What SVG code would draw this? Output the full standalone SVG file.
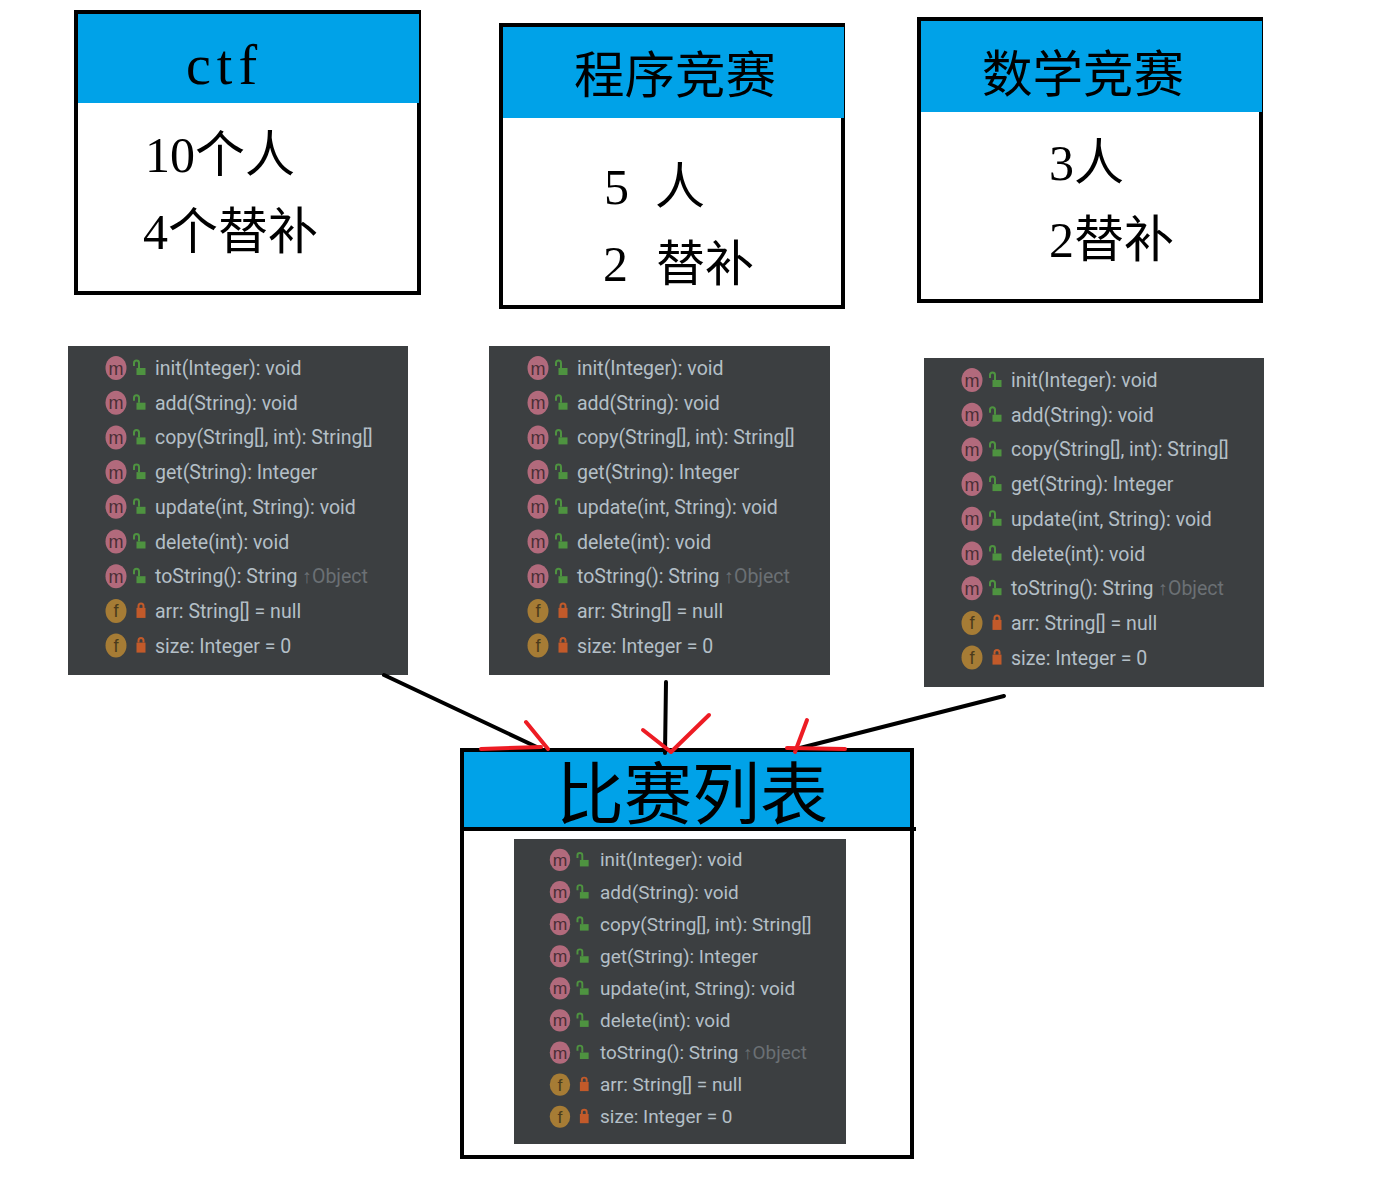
<svg xmlns="http://www.w3.org/2000/svg" xmlns:xlink="http://www.w3.org/1999/xlink" width="1378" height="1194" viewBox="0 0 1378 1194">
<style>
.box{fill:#fff;stroke:#000;stroke-width:4}
.hd{fill:#00a2e8}
.big{font-family:"Liberation Serif","Noto Sans CJK SC",serif;fill:#000}
.panel{fill:#3c3f41}
.r{font-family:Roboto,"Noto Sans",sans-serif;font-size:19.500px;fill:#b4bfc7}
.g{fill:#6b7074}
.ic{font-family:"Liberation Sans",sans-serif;font-size:18px;text-anchor:middle}
.k{stroke:#000;stroke-width:4;fill:none;stroke-linecap:round}
.e{stroke:#ed1c24;stroke-width:4;fill:none;stroke-linecap:round}
</style>
<defs>
<g id="mi"><ellipse cx="0" cy="0" rx="10.500" ry="12" fill="#b26a7c"/><rect x="20.500" y="0" width="9" height="7" fill="#4e9340"/><path d="M18 -2v-3a2.500 2.500 0 0 1 5 0v5" fill="none" stroke="#4e9340" stroke-width="2"/></g>
<g id="fi"><ellipse cx="0" cy="0" rx="10.500" ry="12" fill="#a67c35"/><rect x="20.500" y="-3" width="9" height="10" fill="#c25a2a"/><path d="M22.500 -3v-2a2.500 2.500 0 0 1 5 0v2" fill="none" stroke="#c25a2a" stroke-width="2"/></g>
</defs>
<rect width="1378" height="1194" fill="#fff"/>

<g id="node-ctf">
<rect class="box" x="76" y="12" width="343" height="281"/>
<rect class="hd" x="78" y="14" width="341" height="89"/>
<text class="big" x="186" y="84" font-size="56" letter-spacing="6">ctf</text>
<text class="big" x="145" y="172" font-size="50">10个人</text>
<text class="big" x="143" y="249" font-size="50">4个替补</text>
</g>
<g id="node-program">
<rect class="box" x="501" y="25" width="342" height="282"/>
<rect class="hd" x="503" y="27" width="341" height="91"/>
<text class="big" x="574" y="93" font-size="50.500">程序竞赛</text>
<text class="big" x="604" y="204" font-size="50">5</text><text class="big" x="655" y="204" font-size="50">人</text>
<text class="big" x="603" y="281" font-size="50">2</text><text class="big" x="656" y="281" font-size="49">替补</text>
</g>
<g id="node-math">
<rect class="box" x="919" y="19" width="342" height="282"/>
<rect class="hd" x="921" y="21" width="341" height="91"/>
<text class="big" x="982" y="92" font-size="50.500">数学竞赛</text>
<text class="big" x="1049" y="180" font-size="50">3人</text>
<text class="big" x="1049" y="257" font-size="50">2替补</text>
</g>

<g id="panel-ctf">
<rect class="panel" x="68" y="346" width="340" height="329"/>
<g transform="translate(68,346)">
<use xlink:href="#mi" x="48" y="22"/><text class="ic" x="48" y="28.500" fill="#4a2e36">m</text><text class="r" x="87" y="29">init(Integer): void</text>
<use xlink:href="#mi" x="48" y="56.700"/><text class="ic" x="48" y="63.200" fill="#4a2e36">m</text><text class="r" x="87" y="63.700">add(String): void</text>
<use xlink:href="#mi" x="48" y="91.400"/><text class="ic" x="48" y="97.900" fill="#4a2e36">m</text><text class="r" x="87" y="98.400">copy(String[], int): String[]</text>
<use xlink:href="#mi" x="48" y="126.100"/><text class="ic" x="48" y="132.600" fill="#4a2e36">m</text><text class="r" x="87" y="133.100">get(String): Integer</text>
<use xlink:href="#mi" x="48" y="160.800"/><text class="ic" x="48" y="167.300" fill="#4a2e36">m</text><text class="r" x="87" y="167.800">update(int, String): void</text>
<use xlink:href="#mi" x="48" y="195.500"/><text class="ic" x="48" y="202" fill="#4a2e36">m</text><text class="r" x="87" y="202.500">delete(int): void</text>
<use xlink:href="#mi" x="48" y="230.200"/><text class="ic" x="48" y="236.700" fill="#4a2e36">m</text><text class="r" x="87" y="237.200">toString(): String <tspan class="g">↑Object</tspan></text>
<use xlink:href="#fi" x="48" y="264.900"/><text class="ic" x="48" y="271.400" fill="#4a3a1c">f</text><text class="r" x="87" y="271.900">arr: String[] = null</text>
<use xlink:href="#fi" x="48" y="299.600"/><text class="ic" x="48" y="306.100" fill="#4a3a1c">f</text><text class="r" x="87" y="306.600">size: Integer = 0</text>
</g>
</g>
<g id="panel-program">
<rect class="panel" x="489" y="346" width="341" height="329"/>
<g transform="translate(490,346)">
<use xlink:href="#mi" x="48" y="22"/><text class="ic" x="48" y="28.500" fill="#4a2e36">m</text><text class="r" x="87" y="29">init(Integer): void</text>
<use xlink:href="#mi" x="48" y="56.700"/><text class="ic" x="48" y="63.200" fill="#4a2e36">m</text><text class="r" x="87" y="63.700">add(String): void</text>
<use xlink:href="#mi" x="48" y="91.400"/><text class="ic" x="48" y="97.900" fill="#4a2e36">m</text><text class="r" x="87" y="98.400">copy(String[], int): String[]</text>
<use xlink:href="#mi" x="48" y="126.100"/><text class="ic" x="48" y="132.600" fill="#4a2e36">m</text><text class="r" x="87" y="133.100">get(String): Integer</text>
<use xlink:href="#mi" x="48" y="160.800"/><text class="ic" x="48" y="167.300" fill="#4a2e36">m</text><text class="r" x="87" y="167.800">update(int, String): void</text>
<use xlink:href="#mi" x="48" y="195.500"/><text class="ic" x="48" y="202" fill="#4a2e36">m</text><text class="r" x="87" y="202.500">delete(int): void</text>
<use xlink:href="#mi" x="48" y="230.200"/><text class="ic" x="48" y="236.700" fill="#4a2e36">m</text><text class="r" x="87" y="237.200">toString(): String <tspan class="g">↑Object</tspan></text>
<use xlink:href="#fi" x="48" y="264.900"/><text class="ic" x="48" y="271.400" fill="#4a3a1c">f</text><text class="r" x="87" y="271.900">arr: String[] = null</text>
<use xlink:href="#fi" x="48" y="299.600"/><text class="ic" x="48" y="306.100" fill="#4a3a1c">f</text><text class="r" x="87" y="306.600">size: Integer = 0</text>
</g>
</g>
<g id="panel-math">
<rect class="panel" x="924" y="358" width="340" height="329"/>
<g transform="translate(924,358)">
<use xlink:href="#mi" x="48" y="22"/><text class="ic" x="48" y="28.500" fill="#4a2e36">m</text><text class="r" x="87" y="29">init(Integer): void</text>
<use xlink:href="#mi" x="48" y="56.700"/><text class="ic" x="48" y="63.200" fill="#4a2e36">m</text><text class="r" x="87" y="63.700">add(String): void</text>
<use xlink:href="#mi" x="48" y="91.400"/><text class="ic" x="48" y="97.900" fill="#4a2e36">m</text><text class="r" x="87" y="98.400">copy(String[], int): String[]</text>
<use xlink:href="#mi" x="48" y="126.100"/><text class="ic" x="48" y="132.600" fill="#4a2e36">m</text><text class="r" x="87" y="133.100">get(String): Integer</text>
<use xlink:href="#mi" x="48" y="160.800"/><text class="ic" x="48" y="167.300" fill="#4a2e36">m</text><text class="r" x="87" y="167.800">update(int, String): void</text>
<use xlink:href="#mi" x="48" y="195.500"/><text class="ic" x="48" y="202" fill="#4a2e36">m</text><text class="r" x="87" y="202.500">delete(int): void</text>
<use xlink:href="#mi" x="48" y="230.200"/><text class="ic" x="48" y="236.700" fill="#4a2e36">m</text><text class="r" x="87" y="237.200">toString(): String <tspan class="g">↑Object</tspan></text>
<use xlink:href="#fi" x="48" y="264.900"/><text class="ic" x="48" y="271.400" fill="#4a3a1c">f</text><text class="r" x="87" y="271.900">arr: String[] = null</text>
<use xlink:href="#fi" x="48" y="299.600"/><text class="ic" x="48" y="306.100" fill="#4a3a1c">f</text><text class="r" x="87" y="306.600">size: Integer = 0</text>
</g>
</g>

<g id="node-list">
<rect class="box" x="462" y="750" width="450" height="407"/>
<rect class="hd" x="464" y="752" width="446" height="75"/>
<rect x="462" y="827" width="454" height="4" fill="#000"/>
<text class="big" x="556" y="819" font-size="68">比赛列表</text>
<rect class="panel" x="514" y="839" width="332" height="305"/>
<g transform="translate(513.300,839.600) scale(.972,.925)">
<use xlink:href="#mi" x="48" y="22"/><text class="ic" x="48" y="28.500" fill="#4a2e36">m</text><text class="r" x="89.200" y="29">init(Integer): void</text>
<use xlink:href="#mi" x="48" y="56.700"/><text class="ic" x="48" y="63.200" fill="#4a2e36">m</text><text class="r" x="89.200" y="63.700">add(String): void</text>
<use xlink:href="#mi" x="48" y="91.400"/><text class="ic" x="48" y="97.900" fill="#4a2e36">m</text><text class="r" x="89.200" y="98.400">copy(String[], int): String[]</text>
<use xlink:href="#mi" x="48" y="126.100"/><text class="ic" x="48" y="132.600" fill="#4a2e36">m</text><text class="r" x="89.200" y="133.100">get(String): Integer</text>
<use xlink:href="#mi" x="48" y="160.800"/><text class="ic" x="48" y="167.300" fill="#4a2e36">m</text><text class="r" x="89.200" y="167.800">update(int, String): void</text>
<use xlink:href="#mi" x="48" y="195.500"/><text class="ic" x="48" y="202" fill="#4a2e36">m</text><text class="r" x="89.200" y="202.500">delete(int): void</text>
<use xlink:href="#mi" x="48" y="230.200"/><text class="ic" x="48" y="236.700" fill="#4a2e36">m</text><text class="r" x="89.200" y="237.200">toString(): String <tspan class="g">↑Object</tspan></text>
<use xlink:href="#fi" x="48" y="264.900"/><text class="ic" x="48" y="271.400" fill="#4a3a1c">f</text><text class="r" x="89.200" y="271.900">arr: String[] = null</text>
<use xlink:href="#fi" x="48" y="299.600"/><text class="ic" x="48" y="306.100" fill="#4a3a1c">f</text><text class="r" x="89.200" y="306.600">size: Integer = 0</text>
</g>
</g>

<g id="connectors">
<path class="k" d="M384 675L541 749"/>
<path class="k" d="M666 682L665 753"/>
<path class="k" d="M1004 696L800 748"/>
<path class="e" d="M481 749L541 747M526 722L548 749"/>
<path class="e" d="M643 730L671 752M709 715L671 752"/>
<path class="e" d="M807 720L795 752M787 748L845 749"/>
</g>
</svg>
